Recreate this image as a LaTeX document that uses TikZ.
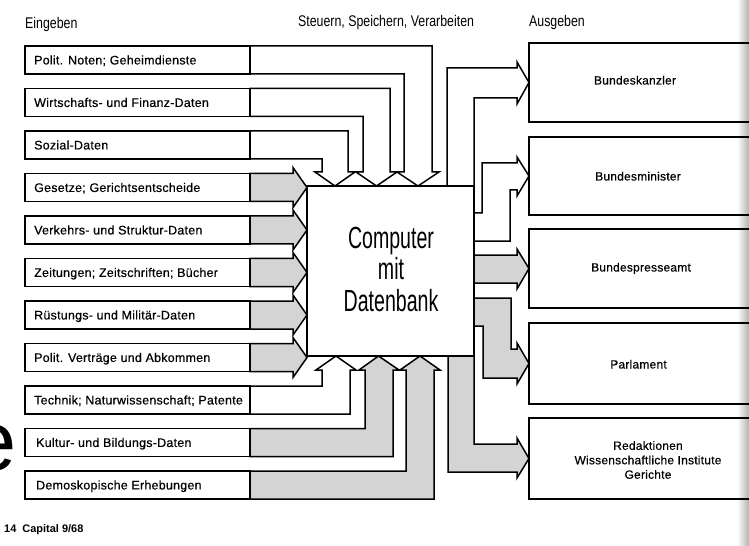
\documentclass[tikz,border=0pt]{standalone}
\usepackage{fontspec}
\setmainfont{Liberation Sans}
\newfontfamily\labf[LetterSpace=2,FakeBold=0.5]{Liberation Sans}
\newfontfamily\condf[FakeStretch=0.8]{Liberation Sans}
\newfontfamily\compf[FakeStretch=0.64]{Liberation Sans}
\newfontfamily\sansf{Liberation Sans}
\begin{document}
\begin{tikzpicture}[x=1bp,y=-1bp,
 ln/.style={line width=1.5bp, line join=miter, draw=black},
 inbox/.style={ln, fill=white, minimum width=225bp, minimum height=28bp, inner sep=0bp, outer sep=0bp, anchor=north west},
 inlbl/.style={font=\labf\fontsize{12.5}{14}\selectfont, text height=8.9bp, text depth=0bp, inner sep=0bp, anchor=west},
 outbox/.style={ln, minimum width=240bp, inner sep=0bp, outer sep=0bp, anchor=north west},
 compbox/.style={ln, fill=white, minimum width=167bp, minimum height=170bp, inner sep=0bp, outer sep=0bp, anchor=north west},
 chw/.style={ln, fill=white},
 chg/.style={ln, fill=black!17},
 hdr/.style={font=\condf\fontsize{15.5}{17}\selectfont, anchor=base west, inner sep=0bp},
 outlbl/.style={font=\labf\fontsize{12}{14.5}\selectfont, inner sep=0bp, align=center},
 comptxt/.style={font=\compf\fontsize{30.7}{32}\selectfont, anchor=base, inner sep=0bp}]
\useasboundingbox (0,0) rectangle (749,546);
\fill[white] (0,0) rectangle (749,546);
\shade[left color=white, right color=black!30] (737,0) rectangle (749,546);

% output boxes
\node[outbox, minimum height=79bp] (out0) at (529,43) {};
\node[outbox, minimum height=78bp] (out1) at (529,137) {};
\node[outbox, minimum height=79bp] (out2) at (529,229) {};
\node[outbox, minimum height=81bp] (out3) at (529,323) {};
\node[outbox, minimum height=81bp] (out4) at (529,418) {};

% input boxes
\foreach \i in {0,...,10} {
  \node[inbox] (in\i) at (25,{46+42.5*\i}) {};
}
% computer
\node[compbox] (comp) at (307,186) {};

% top channels (white, down)
\draw[chw] (in0.north east) -| ++(182,126) -- ++(7,0) -- ([xshift=111bp]comp.north west) -- ++(-21,-14) -- ++(7,0) |- (in0.south east) -- cycle;
\draw[chw] (in1.north east) -| ++(140,83.5) -- ++(7,0) -- ([xshift=69.5bp]comp.north west) -- ++(-20.5,-14) -- ++(7,0) |- (in1.south east) -- cycle;
\draw[chw] (in2.north east) -| ++(98,41) -- ++(7,0) -- ([xshift=28bp]comp.north west) -- ++(-20,-14) -- ++(7,0) |- (in2.south east) -- cycle;

% left channels (grey, right)
\foreach \i in {3,...,7} {
  \draw[chg] (in\i.north east) -- ++(43,0) -- ++(0,-6) -- (in\i.east -| comp.west) -- ([xshift=43bp,yshift=-6bp]in\i.south east) -- ++(0,-6) -- (in\i.south east) -- cycle;
}

% bottom channels (up)
\draw[chw] (in8.north east) -| ++(72,-16) -- ++(-6,0) -- ([xshift=29bp]comp.south west) -- ++(20,14) -- ++(-6,0) |- (in8.south east) -- cycle;
\draw[chg] (in9.north east) -| ++(115,-58.5) -- ++(-6,0) -- ([xshift=71.5bp]comp.south west) -- ++(20.5,14) -- ++(-6,0) |- (in9.south east) -- cycle;
\draw[chg] (in10.north east) -| ++(156,-101) -- ++(-6,0) -- ([xshift=113bp]comp.south west) -- ++(20,14) -- ++(-6,0) |- (in10.south east) -- cycle;

% output channels
\draw[chw] ([xshift=-27bp]comp.north east) |- ++(70,-118) -- ++(0,-6) -- (out0.west) -- ++(-12,21.5) -- ++(0,-6) -| (comp.north east) -- cycle;
\draw[chw] ([yshift=-27bp]comp.north east) -- ++(8,0) |- ++(35,-50) -- ++(0,-6) -- (out1.west) -- ++(-12,20) -- ++(0,-6) -- ++(-7,0) |- ([yshift=-55bp]comp.north east) -- cycle;
\draw[chg] ([yshift=-69bp]comp.north east) -- ++(43,0) -- ++(0,-6) -- (out2.west) -- ++(-12,20.5) -- ++(0,-6) -- ([yshift=-97bp]comp.north east) -- cycle;
\draw[chg] ([yshift=-112bp]comp.north east) -- ++(37,0) |- ++(6,51) -- ++(0,-6) -- (out3.west) -- ++(-12,20.5) -- ++(0,-6) -- ++(-34,0) |- ([yshift=-140bp]comp.north east) -- cycle;
\draw[chg] ([xshift=-26bp]comp.south east) |- ++(69,116) -- ++(0,6) -- (out4.west) -- ++(-12,-20.5) -- ++(0,6) -| (comp.south east) -- cycle;

% redraw computer outline on top
\draw[ln] (comp.north west) rectangle (comp.south east);

% input labels
\node[inlbl] (t0) at ([xshift=9bp]in0.west) {Polit. Noten; Geheimdienste};
\node[inlbl] (t1) at ([xshift=9bp]in1.west) {Wirtschafts- und Finanz-Daten};
\node[inlbl] (t2) at ([xshift=9bp]in2.west) {Sozial-Daten};
\node[inlbl] (t3) at ([xshift=9bp]in3.west) {Gesetze; Gerichtsentscheide};
\node[inlbl] (t4) at ([xshift=9bp]in4.west) {Verkehrs- und Struktur-Daten};
\node[inlbl] (t5) at ([xshift=9bp]in5.west) {Zeitungen; Zeitschriften; Bücher};
\node[inlbl] (t6) at ([xshift=9bp]in6.west) {Rüstungs- und Militär-Daten};
\node[inlbl] (t7) at ([xshift=9bp]in7.west) {Polit. Verträge und Abkommen};
\node[inlbl] (t8) at ([xshift=9bp]in8.west) {Technik; Naturwissenschaft; Patente};
\node[inlbl] (t9) at ([xshift=11bp]in9.west) {Kultur- und Bildungs-Daten};
\node[inlbl] (t10) at ([xshift=11bp]in10.west) {Demoskopische Erhebungen};

% computer text
\node[comptxt] (c1) at (391,249) {Computer};
\node[comptxt] (c2) at (391,280) {mit};
\node[comptxt] (c3) at (391,311) {Datenbank};

% output labels
\node[outlbl, anchor=base] (o0) at (635,84.5) {Bundeskanzler};
\node[outlbl, anchor=base] (o1) at (638,180.5) {Bundesminister};
\node[outlbl, anchor=base] (o2) at (641,271.5) {Bundespresseamt};
\node[outlbl, anchor=base] (o3) at (638.5,368.5) {Parlament};
\node[outlbl] (o4) at (648,460) {Redaktionen\\Wissenschaftliche Institute\\Gerichte};

% headers
\node[hdr] (h1) at (25,29) {Eingeben};
\node[hdr] (h2) at (298,27) {Steuern, Speichern, Verarbeiten};
\node[hdr] (h3) at (529,27) {Ausgeben};

% page artefacts
\node[font=\sansf\fontsize{85}{85}\selectfont, anchor=east, inner sep=0bp] (pe) at (17,448) {e};
\node[font=\sansf\bfseries\fontsize{11}{13}\selectfont, anchor=base west, inner sep=0bp] (foot) at (4,532) {14~~Capital 9/68};
\end{tikzpicture}
\end{document}
